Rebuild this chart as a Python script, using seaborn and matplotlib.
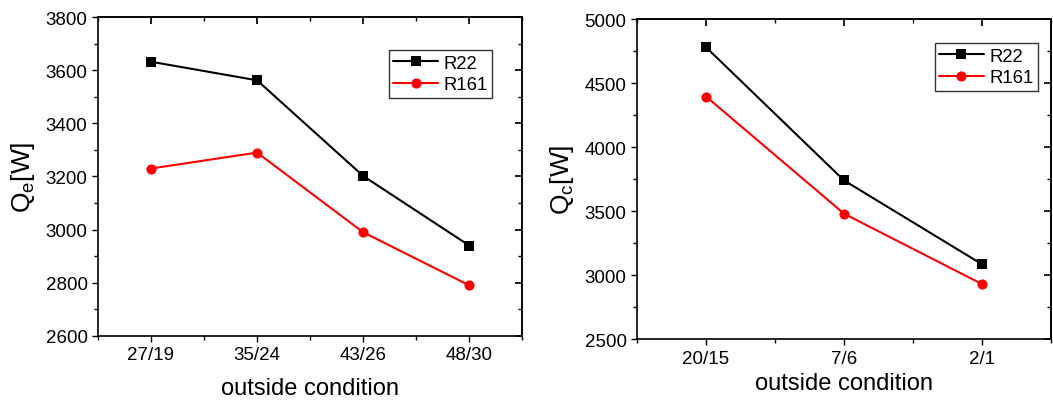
import numpy as np
import pandas as pd
import matplotlib
matplotlib.use("Agg")
import matplotlib.pyplot as plt
import seaborn as sns
from matplotlib.ticker import MultipleLocator, AutoMinorLocator

# --- data ---
cool_cond = ["27/19", "35/24", "43/26", "48/30"]
cool_r22 = [3632, 3562, 3202, 2940]
cool_r161 = [3230, 3290, 2990, 2790]

heat_cond = ["20/15", "7/6", "2/1"]
heat_r22 = [4780, 3740, 3085]
heat_r161 = [4395, 3480, 2930]

refrigerants = ["R22", "R161"]

sns.set_theme(style="ticks")
plt.rcParams['font.family'] = ['Liberation Sans', 'DejaVu Sans']
plt.rcParams['mathtext.fontset'] = 'custom'
plt.rcParams['mathtext.rm'] = 'Liberation Sans'
plt.rcParams['mathtext.it'] = 'Liberation Sans'
plt.rcParams['text.color'] = 'black'
plt.rcParams['axes.labelcolor'] = 'black'
plt.rcParams['xtick.color'] = 'black'
plt.rcParams['ytick.color'] = 'black'


def make_df(cond, r22, r161):
    return pd.DataFrame({
        "cond": cond * 2,
        "Q": r22 + r161,
        "ref": ["R22"] * len(cond) + ["R161"] * len(cond),
    })


def draw_panel(ax, df, n, ylim, ystep, ylabel, leg_anchor):
    sns.lineplot(data=df, x="cond", y="Q", hue="ref", style="ref",
                 hue_order=refrigerants, style_order=refrigerants,
                 palette={"R22": "black", "R161": "red"},
                 markers={"R22": "s", "R161": "o"}, dashes=False,
                 markersize=7.3, markeredgewidth=0, linewidth=1.5,
                 sort=False, ax=ax)
    ax.set_xlim(-0.5, n - 0.5)
    ax.set_ylim(*ylim)
    ax.yaxis.set_major_locator(MultipleLocator(ystep))
    ax.yaxis.set_minor_locator(AutoMinorLocator(2))
    ax.xaxis.set_minor_locator(MultipleLocator(0.5))
    ax.tick_params(which="both", direction="out", labelsize=13.5, width=1,
                   colors="black", labelcolor="black")
    ax.tick_params(which="major", length=4)
    ax.tick_params(which="minor", length=3)
    for s in ax.spines.values():
        s.set_visible(True)
        s.set_linewidth(1.2)
        s.set_color("black")
    # mirrored inward ticks on top and right
    top = ax.secondary_xaxis("top")
    top.set_xticks(ax.get_xticks())
    top.xaxis.set_minor_locator(MultipleLocator(0.5))
    top.tick_params(which="both", direction="in", labeltop=False)
    top.tick_params(which="major", length=5)
    top.tick_params(which="minor", length=3)
    right = ax.secondary_yaxis("right")
    right.yaxis.set_major_locator(MultipleLocator(ystep))
    right.yaxis.set_minor_locator(AutoMinorLocator(2))
    right.tick_params(which="both", direction="in", labelright=False)
    right.tick_params(which="major", length=5)
    right.tick_params(which="minor", length=3)
    ax.set_xlabel("outside condition", fontsize=17, color="black")
    ax.set_ylabel(ylabel, fontsize=19, color="black")
    leg = ax.legend(loc="upper right", bbox_to_anchor=leg_anchor, fontsize=13.3,
                    frameon=True, fancybox=False, edgecolor="black",
                    handlelength=2.4, borderpad=0.25, labelspacing=0.25,
                    handletextpad=0.3, borderaxespad=0, labelcolor="black")
    leg.get_frame().set_linewidth(1)


fig = plt.figure(figsize=(10.53, 4.02), dpi=100)
ax1 = fig.add_axes([0.093, 0.162, 0.403, 0.793])
ax2 = fig.add_axes([0.605, 0.154, 0.393, 0.796])

draw_panel(ax1, make_df(cool_cond, cool_r22, cool_r161), len(cool_cond),
           (2600, 3800), 200, r"Q$_\mathregular{e}$[W]", (0.929, 0.897))
draw_panel(ax2, make_df(heat_cond, heat_r22, heat_r161), len(heat_cond),
           (2500, 5000), 500, r"Q$_\mathregular{c}$[W]", (0.969, 0.925))
ax1.xaxis.labelpad = 10
ax2.xaxis.labelpad = 4
ax1.yaxis.labelpad = 6
ax2.yaxis.labelpad = 6

fig.savefig("out.png", dpi=100, facecolor="white")
